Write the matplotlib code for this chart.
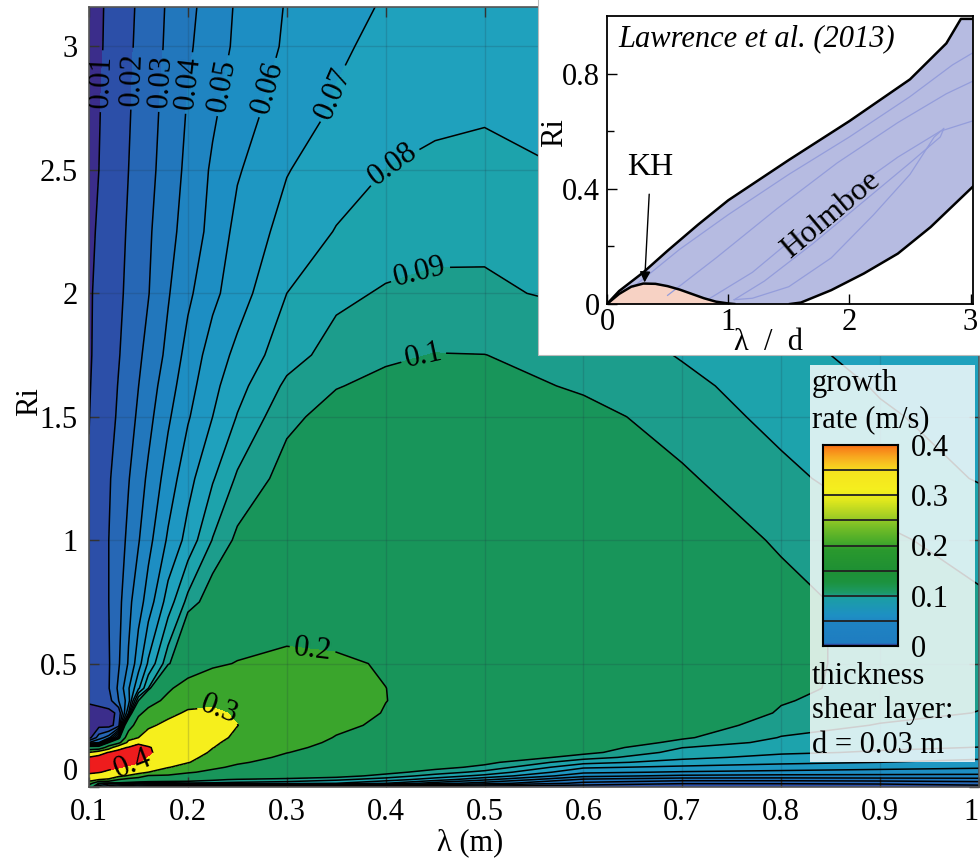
import numpy as np
import matplotlib
matplotlib.use("Agg")
import matplotlib.pyplot as plt
from matplotlib.colors import ListedColormap, BoundaryNorm, LinearSegmentedColormap
from matplotlib.patches import Rectangle

plt.rcParams['font.family'] = ['Liberation Serif', 'DejaVu Serif']

# ---------------- data: growth rate (m/s) ----------------
lam = [0.10, 0.11, 0.12, 0.13, 0.14, 0.15, 0.16, 0.18, 0.20, 0.225, 0.25,
       0.30, 0.35, 0.40, 0.45, 0.50, 0.60, 0.70, 0.80, 0.90, 1.00]
ri = [0, 0.015, 0.03, 0.045, 0.06, 0.08, 0.10, 0.12, 0.14, 0.16, 0.18, 0.20,
      0.25, 0.30, 0.35, 0.40, 0.50, 0.75, 1.00, 1.25, 1.50, 1.625, 1.75, 2.00,
      2.25, 2.50, 2.75, 3.00, 3.20]

# low-Ri part given column by column (rows: Ri = 0 ... 0.40)
low_cols = {
    0.10: [0.12, 0.25, 0.34, 0.385, 0.41, 0.43, 0.43, 0.405, 0.30, 0.12, 0.03, 0.006, 0.005, 0.006, 0.0115, 0.012],
    0.11: [0.07, 0.095, 0.30, 0.36, 0.405, 0.43, 0.435, 0.425, 0.36, 0.12, 0.04, 0.025, 0.007, 0.006, 0.0135, 0.0175],
    0.12: [0.06, 0.085, 0.29, 0.34, 0.385, 0.42, 0.435, 0.435, 0.405, 0.25, 0.10, 0.035, 0.006, 0.007, 0.016, 0.0195],
    0.13: [0.05, 0.085, 0.20, 0.32, 0.37, 0.405, 0.43, 0.44, 0.42, 0.38, 0.17, 0.08, 0.015, 0.012, 0.030, 0.032],
    0.14: [0.045, 0.08, 0.16, 0.29, 0.35, 0.39, 0.42, 0.43, 0.425, 0.405, 0.33, 0.26, 0.15, 0.06, 0.045, 0.049],
    0.15: [0.04, 0.078, 0.14, 0.25, 0.33, 0.37, 0.405, 0.42, 0.425, 0.42, 0.39, 0.30, 0.25, 0.18, 0.10, 0.068],
    0.16: [0.035, 0.08, 0.125, 0.19, 0.30, 0.345, 0.375, 0.395, 0.41, 0.405, 0.38, 0.35, 0.28, 0.23, 0.16, 0.09],
    0.18: [0.03, 0.085, 0.115, 0.19, 0.235, 0.305, 0.335, 0.355, 0.365, 0.37, 0.37, 0.365, 0.33, 0.27, 0.225, 0.185],
    0.20: [0.02, 0.088, 0.11, 0.16, 0.21, 0.26, 0.305, 0.325, 0.34, 0.345, 0.35, 0.35, 0.345, 0.315, 0.26, 0.245],
    0.225: [0.02, 0.088, 0.103, 0.14, 0.18, 0.215, 0.25, 0.27, 0.29, 0.302, 0.31, 0.318, 0.33, 0.315, 0.282, 0.262],
    0.25: [0.018, 0.087, 0.098, 0.125, 0.15, 0.185, 0.21, 0.235, 0.255, 0.268, 0.28, 0.29, 0.301, 0.29, 0.28, 0.266],
    0.30: [0.016, 0.085, 0.096, 0.11, 0.13, 0.15, 0.17, 0.185, 0.202, 0.215, 0.225, 0.235, 0.25, 0.26, 0.27, 0.26],
    0.35: [0.015, 0.08, 0.092, 0.105, 0.118, 0.128, 0.14, 0.155, 0.168, 0.18, 0.19, 0.197, 0.212, 0.235, 0.248, 0.235],
    0.40: [0.014, 0.07, 0.085, 0.096, 0.104, 0.113, 0.122, 0.135, 0.148, 0.16, 0.168, 0.175, 0.19, 0.196, 0.201, 0.2005],
    0.45: [0.013, 0.055, 0.075, 0.086, 0.095, 0.104, 0.112, 0.122, 0.132, 0.142, 0.15, 0.156, 0.168, 0.175, 0.176, 0.172],
    0.50: [0.012, 0.045, 0.062, 0.077, 0.087, 0.097, 0.103, 0.113, 0.122, 0.13, 0.137, 0.142, 0.152, 0.158, 0.16, 0.158],
    0.60: [0.012, 0.027, 0.038, 0.053, 0.062, 0.0715, 0.0835, 0.094, 0.1035, 0.107, 0.112, 0.116, 0.124, 0.130, 0.133, 0.135],
    0.70: [0.011, 0.021, 0.034, 0.048, 0.059, 0.068, 0.076, 0.0825, 0.086, 0.0902, 0.0965, 0.1015, 0.108, 0.116, 0.119, 0.118],
    0.80: [0.012, 0.021, 0.034, 0.047, 0.057, 0.066, 0.072, 0.077, 0.0815, 0.0845, 0.087, 0.0895, 0.094, 0.0985, 0.101, 0.1035],
    0.90: [0.012, 0.022, 0.035, 0.047, 0.0555, 0.0635, 0.070, 0.0745, 0.079, 0.0815, 0.084, 0.0845, 0.0895, 0.0925, 0.094, 0.095],
    1.00: [0.015, 0.025, 0.036, 0.047, 0.054, 0.0615, 0.067, 0.072, 0.076, 0.0798, 0.082, 0.083, 0.087, 0.0898, 0.0908, 0.091],
}

# high-Ri part given row by row (columns: lam)
high_rows = {
    0.50: [0.012, 0.017, 0.0192, 0.029, 0.041, 0.0557, 0.0715, 0.0965, 0.135, 0.186, 0.204, 0.225, 0.213, 0.193, 0.178, 0.160, 0.142, 0.119, 0.104, 0.0955, 0.0925],
    0.75: [0.0115, 0.0165, 0.020, 0.027, 0.0375, 0.0455, 0.0545, 0.0745, 0.093, 0.108, 0.120, 0.136, 0.143, 0.1445, 0.142, 0.138, 0.127, 0.1155, 0.104, 0.0955, 0.0915],
    1.00: [0.011, 0.0162, 0.020, 0.0255, 0.0322, 0.0393, 0.0468, 0.0615, 0.0735, 0.0905, 0.1025, 0.1175, 0.1245, 0.1265, 0.126, 0.124, 0.117, 0.108, 0.0985, 0.092, 0.086],
    1.25: [0.0105, 0.0155, 0.019, 0.0242, 0.0295, 0.0355, 0.0418, 0.0545, 0.0665, 0.079, 0.0915, 0.1045, 0.111, 0.114, 0.115, 0.1145, 0.1105, 0.1015, 0.0925, 0.0845, 0.0795],
    1.50: [0.0098, 0.0135, 0.0165, 0.0215, 0.0263, 0.0315, 0.037, 0.0485, 0.059, 0.070, 0.0805, 0.0975, 0.104, 0.1065, 0.1075, 0.1075, 0.1035, 0.0955, 0.087, 0.081, 0.077],
    1.625: [0.0094, 0.013, 0.01615, 0.0205, 0.025, 0.0299, 0.035, 0.0455, 0.0562, 0.0672, 0.0765, 0.092, 0.0995, 0.1025, 0.104, 0.104, 0.0985, 0.0925, 0.085, 0.0793, 0.0753],
    1.75: [0.009, 0.0125, 0.0158, 0.0195, 0.0237, 0.0283, 0.0329, 0.0425, 0.0535, 0.0645, 0.0725, 0.086, 0.094, 0.0985, 0.1003, 0.1001, 0.0965, 0.0893, 0.0825, 0.0775, 0.0735],
    2.00: [0.0088, 0.0122, 0.0152, 0.0185, 0.0217, 0.0258, 0.0296, 0.0392, 0.048, 0.0575, 0.0655, 0.080, 0.0878, 0.091, 0.0918, 0.0915, 0.088, 0.082, 0.078, 0.0755, 0.073],
    2.25: [0.0077, 0.0113, 0.0143, 0.0175, 0.021, 0.0248, 0.0286, 0.0365, 0.0445, 0.053, 0.063, 0.0735, 0.0805, 0.0848, 0.0875, 0.088, 0.0845, 0.079, 0.0765, 0.0735, 0.0705],
    2.50: [0.006, 0.010, 0.0133, 0.0167, 0.020, 0.0235, 0.0272, 0.0345, 0.0425, 0.0515, 0.059, 0.0695, 0.0755, 0.0801, 0.0818, 0.0822, 0.0795, 0.078, 0.076, 0.0735, 0.0705],
    2.75: [0.005, 0.0095, 0.0128, 0.016, 0.0192, 0.0226, 0.026, 0.0335, 0.0407, 0.0482, 0.0555, 0.0645, 0.071, 0.0755, 0.078, 0.079, 0.0788, 0.0775, 0.0755, 0.0725, 0.069],
    3.00: [0.004, 0.0085, 0.0122, 0.0153, 0.0185, 0.0217, 0.025, 0.0317, 0.0385, 0.0455, 0.0518, 0.0615, 0.0685, 0.0725, 0.075, 0.0765, 0.0775, 0.077, 0.075, 0.072, 0.068],
    3.20: [0.003, 0.008, 0.012, 0.015, 0.018, 0.021, 0.0245, 0.031, 0.037, 0.0445, 0.051, 0.0605, 0.066, 0.0705, 0.074, 0.0765, 0.078, 0.077, 0.074, 0.070, 0.066],
}

line_levels = [0.01, 0.02, 0.03, 0.04, 0.05, 0.06, 0.07, 0.08, 0.09, 0.10, 0.2, 0.3, 0.4]
band_colors = ['#3b2d8b', '#2c4fa8', '#2667b5', '#2277bc', '#1f84c1', '#1d8ec3',
               '#1e97c2', '#1fa1bd', '#1da3ac', '#1c9d8c', '#18955a', '#3aa52c',
               '#f6ef1c', '#ee1c1d']

label_pos = [(0.109, 2.86), (0.141, 2.87), (0.173, 2.86), (0.205, 2.85),
             (0.237, 2.84), (0.275, 2.84), (0.330, 2.83), (0.406, 2.53),
             (0.433, 2.11), (0.438, 1.75), (0.326, 0.555), (0.232, 0.31),
             (0.145, 0.088)]

# inset (Lawrence et al. 2013) curves
hol_up_x = [0, 0.1, 0.3, 0.5, 0.75, 1.0, 1.5, 2.0, 2.5, 2.8, 2.92, 3.05]
hol_up_y = [0, 0.045, 0.11, 0.185, 0.275, 0.36, 0.50, 0.635, 0.78, 0.905, 0.99, 0.99]
kh_x = [0, 0.1, 0.2, 0.3, 0.4, 0.5, 0.6, 0.7, 0.8, 0.9, 1.0, 1.05]
kh_y = [0, 0.035, 0.06, 0.071, 0.07, 0.062, 0.05, 0.035, 0.02, 0.008, 0.002, 0]
hol_lo_x = [1.05, 1.51, 1.6, 1.85, 2.12, 2.40, 2.67, 3.05]
hol_lo_y = [0, 0, 0.005, 0.048, 0.106, 0.175, 0.267, 0.42]
hol_in1_x = [0.22, 0.6, 1.0, 1.5, 2.0, 2.5, 2.85, 3.05]
hol_in1_y = [0.06, 0.19, 0.31, 0.45, 0.58, 0.72, 0.83, 0.88]
hol_in2_x = [0.5, 0.9, 1.4, 1.9, 2.4, 2.8, 3.05]
hol_in2_y = [0.03, 0.16, 0.33, 0.49, 0.63, 0.73, 0.78]
hol_in3_x = [0.85, 1.2, 1.6, 2.0, 2.4, 2.75, 3.05]
hol_in3_y = [0.02, 0.11, 0.25, 0.39, 0.51, 0.60, 0.64]
hol_in4_x = [1.05, 1.3, 1.7, 2.1, 2.5, 2.75, 2.78, 2.7, 2.5, 2.2, 1.85, 1.5, 1.2, 1.05]
hol_in4_y = [0.015, 0.08, 0.21, 0.35, 0.49, 0.58, 0.61, 0.58, 0.45, 0.31, 0.16, 0.06, 0.02, 0.015]

cbar_ticks = [0, 0.1, 0.2, 0.3, 0.4]
cbar_lines = [0.05, 0.10, 0.15, 0.20, 0.25, 0.30, 0.35]
cbar_anchor_v = [0.0, 0.004, 0.045, 0.06, 0.095, 0.105, 0.125, 0.15, 0.19, 0.205, 0.235, 0.26, 0.29, 0.31, 0.345, 0.37, 0.39, 0.40]
cbar_anchor_c = ['#3b2a8a', '#1f7dc1', '#1f84c3', '#1e90c4', '#1b9fa4', '#1d9a68', '#1c9340', '#1f9034',
                 '#2a992e', '#45aa2b', '#74bd27', '#a9d124', '#e2e81d', '#f5ef1e', '#f6e41f',
                 '#f8b521', '#f8881a', '#f86a14']

FS = 22

# ---------------- build field ----------------
n_low = 16
Z = np.zeros((len(ri), len(lam)))
for j, l in enumerate(lam):
    Z[:n_low, j] = low_cols[l]
for i, r in enumerate(ri[n_low:]):
    Z[n_low + i, :] = high_rows[r]

fig = plt.figure(figsize=(9.8, 8.63), dpi=100)
ax = fig.add_axes([89 / 980, 76 / 863, 890 / 980, 780 / 863])

bounds = [-1] + line_levels + [10]
cmap = ListedColormap(band_colors)
norm = BoundaryNorm(bounds, cmap.N)
ax.contourf(lam, ri, Z, levels=bounds, cmap=cmap, norm=norm)
cs = ax.contour(lam, ri, Z, levels=line_levels, colors='black', linewidths=1.1)
ax.clabel(cs, line_levels, manual=label_pos, inline=True, inline_spacing=4,
          fmt=lambda v: f'{v:g}', fontsize=FS)

ax.set_xlim(0.1, 1.0)
ax.set_ylim(0, 3.16)
ax.set_xticks([0.1, 0.2, 0.3, 0.4, 0.5, 0.6, 0.7, 0.8, 0.9, 1.0])
ax.set_xticklabels(['0.1', '0.2', '0.3', '0.4', '0.5', '0.6', '0.7', '0.8', '0.9', '1'])
ax.set_yticks([0, 0.5, 1, 1.5, 2, 2.5, 3])
ax.set_yticklabels(['0', '0.5', '1', '1.5', '2', '2.5', '3'])
ax.tick_params(direction='in', length=7, width=1.0, top=True, right=True,
               labelsize=FS, pad=8, color='#333333')
ax.get_xticklabels()[-1].set_horizontalalignment('right')
ax.get_yticklabels()[0].set_verticalalignment('bottom')
ax.grid(True, color='#203040', alpha=0.18, lw=1.0)
for s in ax.spines.values():
    s.set_color('#555555')
    s.set_linewidth(1.2)

fig.text(30 / 980, 1 - 402 / 863, 'Ri', rotation=90, ha='center', va='center', fontsize=FS)
fig.text(470 / 980, 1 - 843 / 863, 'λ (m)', ha='center', va='center', fontsize=FS)

# ---------------- inset ----------------
fig.add_artist(Rectangle((538 / 980, 1 - 355 / 863), 445 / 980, 360 / 863,
                         transform=fig.transFigure, facecolor='white',
                         edgecolor='#bbbbbb', lw=0.8, zorder=2))
axi = fig.add_axes([607 / 980, 1 - 304 / 863, 366 / 980, 288 / 863], zorder=3)
axi.set_facecolor('white')
poly_x = list(hol_up_x) + list(hol_lo_x[::-1]) + list(kh_x[::-1])
poly_y = list(hol_up_y) + list(hol_lo_y[::-1]) + list(kh_y[::-1])
axi.fill(poly_x, poly_y, color='#b6bbe1', lw=0)
axi.fill(kh_x, kh_y, color='#f7d2c4', lw=0)
for xs, ys in [(hol_in1_x, hol_in1_y), (hol_in2_x, hol_in2_y),
               (hol_in3_x, hol_in3_y), (hol_in4_x, hol_in4_y)]:
    axi.plot(xs, ys, color='#949ddb', lw=0.9)
axi.plot(hol_up_x, hol_up_y, color='black', lw=1.8)
axi.plot(kh_x, kh_y, color='black', lw=1.8)
axi.plot(hol_lo_x[1:], hol_lo_y[1:], color='black', lw=1.8)
axi.set_xlim(0, 3.02)
axi.set_ylim(0, 1.0)
axi.set_xticks([0, 1, 2, 3])
axi.set_xticklabels(['0', '1', '2', '3'])
axi.set_yticks([0, 0.4, 0.8])
axi.set_yticklabels(['0', '0.4', '0.8'])
axi.set_yticks([0.2, 0.6], minor=True)
axi.tick_params(direction='in', length=7, width=1.0, labelsize=FS, pad=3)
axi.tick_params(axis='y', pad=5)
axi.tick_params(which='minor', direction='in', length=5, width=1.0)
for s in axi.spines.values():
    s.set_linewidth(1.3)
axi.text(0.09, 0.92, 'Lawrence et al. (2013)', style='italic', fontsize=FS,
         ha='left', va='center')
axi.annotate('KH', xy=(0.31, 0.075), xytext=(0.36, 0.475), fontsize=23,
             ha='center', va='center',
             arrowprops=dict(arrowstyle='-|>', color='black', lw=1.0,
                             mutation_scale=16, shrinkA=7, shrinkB=0))
axi.text(1.85, 0.31, 'Holmboe', rotation=40, fontsize=23, ha='center', va='center')
fig.text(555 / 980, 1 - 133 / 863, 'Ri', rotation=90, ha='center', va='center',
         fontsize=FS, zorder=4)
fig.text(768 / 980, 1 - 342 / 863, 'λ  /  d', ha='center', va='center', fontsize=FS,
         zorder=4)

# ---------------- colour bar box ----------------
fig.add_artist(Rectangle((810 / 980, 1 - 762 / 863), 165 / 980, 397 / 863,
                         transform=fig.transFigure, facecolor='white',
                         alpha=0.82, lw=0, zorder=2))
axc = fig.add_axes([823 / 980, 1 - 646 / 863, 75 / 980, 201 / 863], zorder=3)
cb_cmap = LinearSegmentedColormap.from_list(
    'gr', [(v / 0.4, c) for v, c in zip(cbar_anchor_v, cbar_anchor_c)])
grad = np.linspace(0, 0.4, 400).reshape(-1, 1)
axc.imshow(grad, aspect='auto', origin='lower', cmap=cb_cmap,
           extent=[0, 1, 0, 0.4], vmin=0, vmax=0.4)
for v in cbar_lines:
    axc.axhline(v, color='#222222', lw=1.3)
axc.set_xticks([])
axc.yaxis.tick_right()
axc.set_yticks(cbar_ticks)
axc.set_yticklabels(['0', '0.1', '0.2', '0.3', '0.4'])
axc.tick_params(axis='y', length=0, labelsize=FS, pad=9)
for s in axc.spines.values():
    s.set_linewidth(1.5)

for txt, y in [('growth', 383), ('rate (m/s)', 420), ('thickness', 676),
               ('shear layer:', 710), ('d = 0.03 m', 745)]:
    fig.text(812 / 980, 1 - y / 863, txt, ha='left', va='center', fontsize=FS,
             zorder=4)

fig.savefig('out.png', dpi=100)
